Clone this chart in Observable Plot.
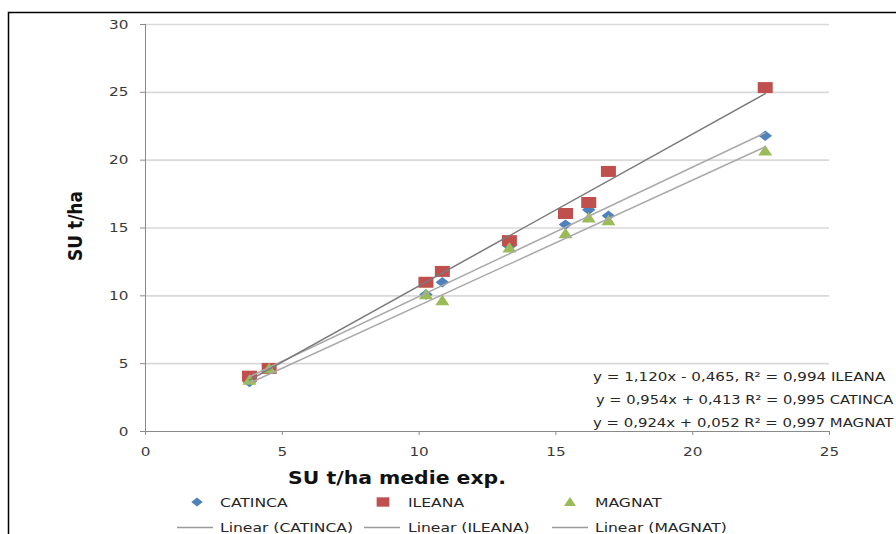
<!DOCTYPE html>
<html>
<head>
<meta charset="utf-8">
<script src="https://cdn.jsdelivr.net/npm/d3@7"></script>
<script src="https://cdn.jsdelivr.net/npm/@observablehq/plot@0.6"></script>
<style>
  html, body { margin: 0; padding: 0; background: #fff; overflow: hidden; }
  #chart svg { display: block; }
</style>
</head>
<body>
<div id="chart"></div>
<script>
// ---- data ----
const xTicks = [0, 5, 10, 15, 20, 25];
const yTicks = [0, 5, 10, 15, 20, 25, 30];
const seriesNames = ["CATINCA", "ILEANA", "MAGNAT"];
const xVals   = [3.8, 4.52, 10.25, 10.85, 13.3, 15.35, 16.2, 16.92, 22.65];
const catinca = [3.65, 4.6, 10.1, 11.0, 13.65, 15.25, 16.35, 15.9, 21.8];
const ileana  = [4.08, 4.65, 11.0, 11.8, 14.07, 16.07, 16.88, 19.17, 25.35];
const magnat  = [3.8, 4.65, 10.1, 9.65, 13.55, 14.6, 15.75, 15.55, 20.7];
const slopes     = [0.954, 1.120, 0.924];
const intercepts = [0.413, -0.465, 0.052];
const equationLabels = [
  "y = 1,120x - 0,465, R² = 0,994 ILEANA",
  "y = 0,954x + 0,413 R² = 0,995 CATINCA",
  "y = 0,924x + 0,052 R² = 0,997 MAGNAT"
];
const xTitle = "SU t/ha medie exp.";
const yTitle = "SU t/ha";

// ---- styles ----
const colors = ["#4F81BD", "#C0504D", "#9BBB59"];
const lineColors = ["#a8a8a8", "#7a7a7a", "#a8a8a8"];

const ys = [catinca, ileana, magnat];
const points = seriesNames.map((name, i) => xVals.map((x, j) => ({series: name, x, y: ys[i][j]})));

const trend = seriesNames.map((name, i) => {
  const [x0, x1] = d3.extent(xVals);
  return [x0, x1].map(x => ({series: name, x, y: slopes[i] * x + intercepts[i]}));
});

// custom marker shapes (slightly wide, like the reference)
function unit(size) { return Math.sqrt(size / Math.PI) / 5; }
const diamond = {draw(ctx, size) { const s = unit(size), w = 6.8 * s, h = 5.2 * s;
  ctx.moveTo(0, -h); ctx.lineTo(w, 0); ctx.lineTo(0, h); ctx.lineTo(-w, 0); ctx.closePath(); }};
const square = {draw(ctx, size) { const s = unit(size), w = 7.5 * s, h = 5.5 * s;
  ctx.moveTo(-w, -h); ctx.lineTo(w, -h); ctx.lineTo(w, h); ctx.lineTo(-w, h); ctx.closePath(); }};
const triangle = {draw(ctx, size) { const s = unit(size), w = 7 * s, h = 10.5 * s;
  ctx.moveTo(0, -h * 0.55); ctx.lineTo(w, h * 0.45); ctx.lineTo(-w, h * 0.45); ctx.closePath(); }};
const symbols = [diamond, square, triangle];

const svg = Plot.plot({
  width: 896,
  height: 534,
  marginLeft: 145,
  marginRight: 67,
  marginTop: 24,
  marginBottom: 103,
  style: {fontFamily: "DejaVu Sans", fontSize: "12.5px", color: "#3a3a3a", background: "#fff"},
  x: {domain: [0, 25]},
  y: {domain: [0, 30]},
  marks: [
    Plot.gridY(yTicks.filter(d => d > 0), {stroke: "#d9d9d9", strokeOpacity: 1, strokeWidth: 1.6}),
    Plot.ruleY([0], {stroke: "#8a8a8a", strokeWidth: 1}),
    Plot.ruleX([0], {stroke: "#8a8a8a", strokeWidth: 1}),
    Plot.axisX({ticks: xTicks, tickSize: 4, tickPadding: 12, label: null, stroke: "#8a8a8a", tickFormat: d => String(d)}),
    Plot.axisY({ticks: yTicks, tickSize: 5, tickPadding: 12, label: null, stroke: "#8a8a8a", tickFormat: d => String(d)}),
    ...points.map((pts, i) => Plot.dot(pts, {x: "x", y: "y", r: 5, symbol: symbols[i], fill: colors[i], stroke: "none"})),
    ...trend.map((seg, i) => Plot.line(seg, {x: "x", y: "y", stroke: lineColors[i], strokeWidth: 1.5}))
  ]
});

document.getElementById("chart").appendChild(svg);

// stretch tick labels horizontally like the reference
const K = 1.22;
d3.select(svg).selectAll('g[aria-label$="tick label"] text').each(function () {
  const x = parseFloat(this.getAttribute("x")) || 0;
  const t = this.getAttribute("transform") || "";
  this.setAttribute("transform", `${t} translate(${x},0) scale(${K},1) translate(${-x},0)`);
});

const root = d3.select(svg);

// outer chart frame (extends past the right/bottom edges)
root.insert("rect", ":first-child")
  .attr("x", 8.5).attr("y", 12.5).attr("width", 2000).attr("height", 2000)
  .attr("fill", "none").attr("stroke", "#000").attr("stroke-width", 1.5);

function addText(x, y, str, opts = {}) {
  const k = opts.k || K;
  const t = root.append("text")
    .attr("transform", `translate(${x},${y}) scale(${k},1)${opts.rotate ? ` rotate(${opts.rotate})` : ""}`)
    .attr("font-family", opts.family || "DejaVu Sans")
    .attr("font-size", opts.size || 12.5)
    .attr("font-weight", opts.weight || "normal")
    .attr("fill", opts.fill || "#262626")
    .attr("text-anchor", opts.anchor || "start")
    .attr("dy", "0.35em")
    .text(str);
  if (opts.maxRight) {
    const w = t.node().getComputedTextLength();
    if (x + w * k > opts.maxRight) {
      const k2 = (opts.maxRight - x) / w;
      t.attr("transform", `translate(${x},${y}) scale(${k2},1)`);
    }
  }
  return t;
}

// axis titles
addText(397, 478, xTitle, {size: 17, weight: "bold", anchor: "middle", fill: "#111", k: 1.2});
addText(75, 226, yTitle, {size: 17, weight: "bold", anchor: "middle", fill: "#111", k: 1.15, rotate: -90});

// regression equations
const eqX = [593, 596, 593];
const eqY = [377, 400, 423];
equationLabels.forEach((s, i) => addText(eqX[i], eqY[i], s, {size: 12.7, fill: "#262626", k: 1.19, maxRight: 893}));

// legend
const legMarkX = [197, 383, 570];
const legTextX = [220, 408, 595];
const legLineX = [177, 364, 552];
seriesNames.forEach((name, i) => {
  root.append("path")
    .attr("transform", `translate(${legMarkX[i]},502) scale(0.85)`)
    .attr("d", d3.symbol(symbols[i], 25 * Math.PI)())
    .attr("fill", colors[i]);
  addText(legTextX[i], 502, name, {size: 13, k: 1.2});
  root.append("line")
    .attr("x1", legLineX[i]).attr("x2", legLineX[i] + 36)
    .attr("y1", 527.5).attr("y2", 527.5)
    .attr("stroke", "#9a9a9a").attr("stroke-width", 1.5);
  addText(legTextX[i], 527, `Linear (${name})`, {size: 13.1, k: 1.19});
});
</script>
</body>
</html>
